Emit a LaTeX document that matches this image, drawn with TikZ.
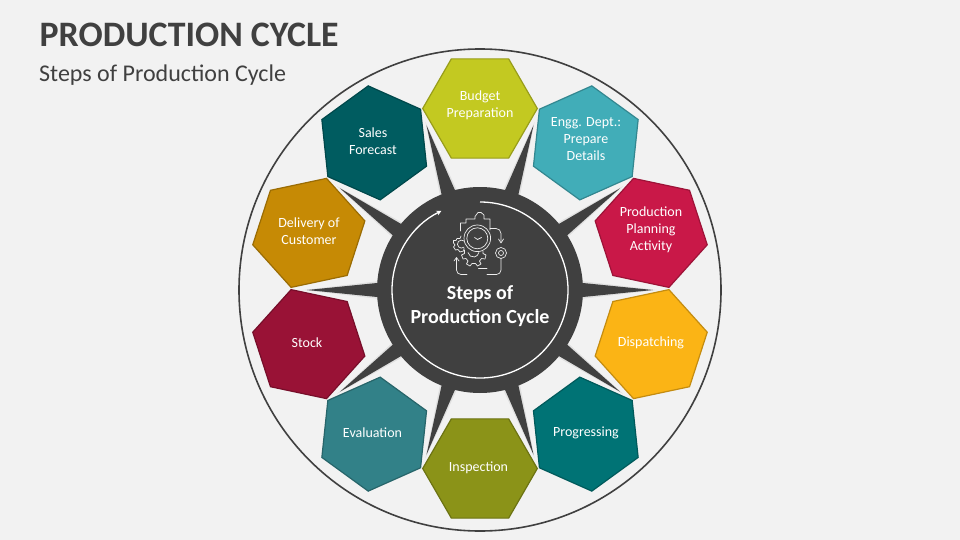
\documentclass[tikz,border=0pt]{standalone}
\usepackage{fontspec}
\setmainfont{Carlito}
\usetikzlibrary{shapes.geometric,arrows.meta}
\definecolor{bgc}{HTML}{F2F2F2}
\definecolor{dark}{HTML}{404040}
\definecolor{icn}{HTML}{EDEDED}
\definecolor{c0}{HTML}{C3C921}
\definecolor{c1}{HTML}{41ADB8}
\definecolor{c2}{HTML}{C91848}
\definecolor{c3}{HTML}{FBB415}
\definecolor{c4}{HTML}{007375}
\definecolor{c5}{HTML}{8B9318}
\definecolor{c6}{HTML}{328188}
\definecolor{c7}{HTML}{991236}
\definecolor{c8}{HTML}{C68A05}
\definecolor{c9}{HTML}{005C60}
\tikzset{
  hexa/.style={regular polygon,regular polygon sides=6,minimum size=114.6pt,inner sep=0pt,outer sep=0pt,line width=1.2pt},
  lab/.style={text=white,font=\fontsize{14}{17}\selectfont,align=center,inner sep=0pt},
  icon/.style={draw=icn,line width=0.7pt,line cap=round,line join=round},
  spike/.style={fill=dark},
  halo/.style={fill=black,opacity=0.07}
}
\begin{document}
\begin{tikzpicture}[x=1pt,y=-1pt]
\useasboundingbox (0,0) rectangle (960,540);
\fill[bgc] (0,0) rectangle (960,540);
\node[anchor=west,inner sep=0pt,text=dark,font=\fontsize{35.8}{40}\selectfont\bfseries] (title) at (39.5,35) {PRODUCTION CYCLE};
\node[anchor=west,inner sep=0pt,text=dark,font=\fontsize{24}{28}\selectfont] (sub) at (39,75.5) {Steps of Production Cycle};
\coordinate (O) at (480,290);
\draw[dark,line width=1.6pt] (O) circle[radius=241];
% hub and spikes
\foreach \a in {18,54,...,342}{
  \fill[halo] ({480+102*cos(\a-90-5)},{290+102*sin(\a-90-5)}) -- ({480+177*cos(\a-90)},{290+177*sin(\a-90)}) -- ({480+102*cos(\a-90+5)},{290+102*sin(\a-90+5)}) -- cycle;
  \fill[spike] ({480+102*cos(\a-90-4)},{290+102*sin(\a-90-4)}) -- ({480+173*cos(\a-90)},{290+173*sin(\a-90)}) -- ({480+102*cos(\a-90+4)},{290+102*sin(\a-90+4)}) -- cycle;
}
\fill[dark] (O) circle[radius=103];
\draw[white,line width=1.3pt,-{Stealth[length=5pt,width=5pt]}] (480,202) arc[start angle=-90,delta angle=334,radius=88];
% hexagons and their labels
\foreach \i/\lx/\ly/\t in {0/480/105.5/{Budget\\Preparation},1/586/139.5/{Engg. Dept.:\\Prepare\\Details},2/651/229.5/{Production\\Planning\\Activity},3/651/342.5/{Dispatching},4/586/433/{Progressing},5/478.5/467.5/{Inspection},6/372.5/432.5/{Evaluation},7/307/342.5/{Stock},8/309/231.5/{Delivery of\\Customer},9/373/141.5/{Sales\\Forecast}}{
  \pgfmathsetmacro{\hx}{480+180*sin(36*\i)}
  \pgfmathsetmacro{\hy}{288.5-180*cos(36*\i)}
  \pgfmathsetmacro{\rot}{-36*\i}
  \node[hexa,fill=c\i,draw=c\i!78!black,shape border rotate=\rot] (h\i) at (\hx,\hy) {};
  \node[lab] (t\i) at (\lx,\ly) {\t};
}
% centre text
\node[text=white,inner sep=0pt,align=center,font=\fontsize{20}{24}\selectfont\bfseries] (hub) at (480,306) {Steps of\\Production Cycle};
% icon
\begin{scope}[icon]
\draw (477.3,238.3) circle[radius=13.3];
\draw (477.3,238.3) circle[radius=10.5];
\draw (474.5,237.5) -- (477.5,239.5) -- (481.5,237.5);
\draw (460.5,231) -- (460.5,223) -- (466,223) -- (466,219) -- (475,219) -- (475,216.5) -- (478,212.5) -- (481,212.5) -- (484,215) -- (484,219) -- (490,219) -- (490,230);
\draw (490,228.5) -- (496,228.5) arc[start angle=-90,delta angle=90,radius=5] -- (501,242);
\draw (498.5,239) -- (501,243) -- (503.5,239);
\draw (501,253) circle[radius=5.5];
\draw (501,253) circle[radius=2.5];
\draw (501,259) -- (501,270) arc[start angle=0,delta angle=90,radius=4.5] -- (487,274.5);
\draw (467,274.5) -- (461,274.5) arc[start angle=90,delta angle=90,radius=4.5] -- (456.5,258);
\draw (454,261) -- (456.5,257.5) -- (459,261);
\draw (478.5,268.5) -- (487,268.5);
% big gear
\draw (464.5,250) -- (464.5,253.5) -- (461.5,255) -- (463,259) -- (466,258.5) -- (468,261) -- (466.5,264) -- (470,266) -- (472,263.5) -- (475.5,263.5) -- (477.5,266) -- (481,264) -- (479.5,261) -- (481.5,258.5) -- (485,259) -- (486,255) -- (483,253.5) -- (483,251.5);
\draw (468,252.5) arc[start angle=170,delta angle=-160,radius=5.5];
% small gear
\draw (461,236) -- (460,238.5) -- (457,238.5) -- (456,240.5) -- (453.5,240.5) -- (453.5,243) -- (455,245) -- (453.5,247) -- (455.5,250) -- (458,249.5) -- (460,252) -- (463.5,251) -- (464,248.5);
\draw (464,241) arc[start angle=-50,delta angle=-260,radius=4];
\end{scope}
\end{tikzpicture}
\end{document}
